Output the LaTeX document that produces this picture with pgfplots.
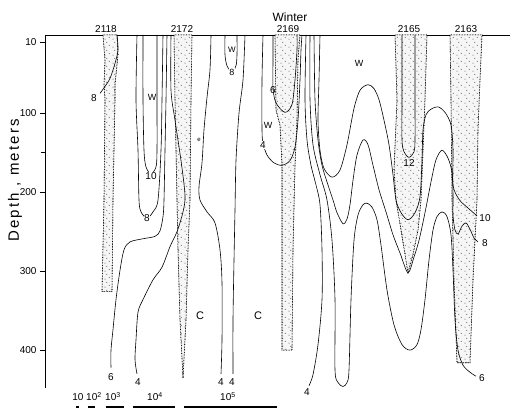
\documentclass[border=0pt]{standalone}
\usepackage{pgfplots}
\pgfplotsset{compat=1.18}
\usepackage{fontspec}
\setmainfont{Liberation Sans}
\newfontfamily\spacedfont[LetterSpace=15]{Liberation Sans}
\usetikzlibrary{patterns}
\pgfdeclarepatternformonly{stipple}{\pgfqpoint{-0.5pt}{-0.5pt}}{\pgfqpoint{8.5pt}{8.5pt}}{\pgfqpoint{8pt}{8pt}}{%
  \pgfpathcircle{\pgfqpoint{1pt}{1pt}}{0.5pt}%
  \pgfpathcircle{\pgfqpoint{5.2pt}{2.6pt}}{0.5pt}%
  \pgfpathcircle{\pgfqpoint{2.8pt}{5.6pt}}{0.5pt}%
  \pgfusepath{fill}}
\pgfplotsset{
  cont/.style={black, line width=0.6pt, smooth, tension=0.5, no marks},
  band/.style={draw=black, densely dotted, line width=0.6pt, no marks,
    pattern=stipple, pattern color=black!75, preaction={fill=gray!7}},
}
\tikzset{
  lab/.style={font=\fontsize{10}{11}\selectfont, inner sep=0.6pt},
  wlab/.style={lab, fill=white},
}
\begin{document}
\begin{tikzpicture}
\begin{axis}[
  x=1pt, y=0.79pt,
  xmin=45, xmax=510, ymin=1, ymax=448,
  y dir=reverse,
  axis x line=none, axis y line=left,
  axis line style={-, line width=0.7pt},
  ytick={10,100,200,300,400},
  minor ytick={150},
  tick align=outside,
  major tick length=5pt, minor tick length=4pt,
  tick style={line width=0.7pt, black},
  yticklabel style={font=\fontsize{10}{12}\selectfont},
  /pgf/number format/assume math mode=true,
  clip=false,
]
% frame top line
\draw[line width=0.8pt] (axis cs:45,1) -- (axis cs:510,1);

% ---- stippled station bands
% 2118
\addplot[band] coordinates {(103,1) (105,33) (104,64) (105,83) (104,210) (102,326) (112,326) (113,210) (115,83) (115,64) (118,26) (117,1)} -- cycle;
% 2172
\addplot[band] coordinates {(174,1) (175,83) (177,210) (178,273) (180,362) (183,435) (186,362) (188,273) (190,210) (191,83) (192,1)} -- cycle;
% 2169
\addplot[band] coordinates {(275,1) (276,96) (280,115) (282,166) (282,273) (282,400) (292,400) (293,273) (295,166) (297,109) (298,33) (300,1)} -- cycle;
% 2165
\addplot[band] coordinates {(395,1) (397,83) (394,172) (396,210) (401,248) (405,279) (408,302) (413,279) (418,248) (421,210) (423,147) (425,83) (427,1)} -- cycle;
% 2163
\addplot[band] coordinates {(450,1) (451,83) (452,210) (454,311) (457,416) (470,416) (473,311) (477,210) (478,121) (480,58) (482,1)} -- cycle;

% ---- isolines, left part
\addplot[cont] coordinates {(117,1) (118,20) (115,37) (110,56) (104,68) (100,75)};
\addplot[cont] coordinates {(143,1) (143,83) (144,147) (146,168) (151,177) (156,168) (157,147) (157,83) (157,1)};
\addplot[cont] coordinates {(137,1) (136,83) (138,147) (139,210) (141,225) (147,233) (153,225) (158,210) (161,147) (162,83) (163,1)};
\addplot[cont] coordinates {(167,1) (166,83) (165,147) (164,210) (163,231) (160,249) (155,256) (143,259) (130,263) (124,273) (120,299) (116,336) (113,374) (111,400) (111,422)};
\addplot[cont] coordinates {(171,1) (171,71) (175,109) (181,160) (185,204) (183,225) (177,250) (170,269) (162,295) (153,311) (143,336) (138,352) (136,387) (135,412) (137,430)};
\addplot[cont] coordinates {(211,1) (210,45) (207,80) (204,121) (202,163) (199,193) (200,210) (207,225) (215,239) (220,273) (222,315) (222,387) (221,430)};
\addplot[cont] coordinates {(245,1) (243,58) (239,100) (236,160) (235,223) (234,286) (233,362) (233,430)};
\addplot[cont] coordinates {(225,1) (225,26) (227,40) (232,48) (236,40) (237,26) (237,1)};

% ---- isolines around 2169
\addplot[cont] coordinates {(263,1) (262,58) (262,121) (263,138) (267,153) (274,163) (282,166) (290,160) (295,143) (298,109) (300,58) (301,20) (302,1)};
\addplot[cont] coordinates {(273,1) (273,33) (273,68) (276,87) (285,99) (292,89) (295,58) (297,20) (297,1)};

% ---- isolines, right part
\addplot[cont] coordinates {(306,1) (305,83) (307,134) (311,166) (316,191) (320,216) (322,273) (322,336) (318,393) (313,431) (309,445)};
\addplot[cont] coordinates {(310,1) (310,83) (313,140) (320,178) (327,210) (332,261) (335,336) (335,425) (338,441) (343,446) (347,441) (349,425) (351,336) (354,261) (358,229) (363,216) (367,214) (372,219) (377,235) (381,267) (387,324) (394,368) (402,393) (410,400) (417,393) (421,374) (425,336) (429,286) (433,248) (437,231) (442,225) (447,231) (451,254) (453,299) (455,362) (458,400) (463,419) (470,428) (476,433)};
\addplot[cont] coordinates {(314,1) (315,83) (318,134) (322,166) (327,187) (333,210) (337,226) (343,240) (347,234) (350,216) (353,185) (357,153) (363,134) (368,140) (373,166) (379,197) (386,225) (393,254) (400,277) (408,302) (414,282) (419,261) (425,226) (431,187) (436,159) (442,147) (448,157) (452,175) (453,204) (453,229) (455,248) (458,253) (462,243) (466,239) (470,247) (474,258) (478,263)};
\addplot[cont] coordinates {(320,1) (319,58) (318,109) (320,147) (324,170) (332,181) (340,172) (347,140) (354,94) (360,71) (368,64) (374,69) (379,83) (384,109) (389,140) (393,178) (396,210) (401,226) (408,235) (415,226) (420,206) (422,159) (423,121) (426,102) (431,95) (438,92) (445,99) (451,115) (453,147) (453,191) (459,209) (467,219) (477,230)};
\addplot[cont] coordinates {(402,1) (402,83) (402,134) (404,149) (409,156) (414,149) (415,134) (415,83) (415,1)};

% ---- scale bars
\addplot[black, line width=1.3pt, no marks] coordinates {(76,472) (79,472)};
\addplot[black, line width=1.3pt, no marks] coordinates {(88,472) (95,472)};
\addplot[black, line width=1.3pt, no marks] coordinates {(106,472) (124,472)};
\addplot[black, line width=1.3pt, no marks] coordinates {(133,472) (175,472)};
\addplot[black, line width=1.3pt, no marks] coordinates {(184,472) (277,472)};

% ---- labels
\node[lab] at (axis cs:94,81) {8};
\node[wlab] at (axis cs:151,180) {10};
\node[wlab] at (axis cs:147,233) {8};
\node[lab, font=\fontsize{9}{10}\selectfont] at (axis cs:152,80) {W};
\node[wlab, font=\fontsize{9}{10}\selectfont] at (axis cs:232,48) {8};
\node[lab, font=\fontsize{8}{9}\selectfont] at (axis cs:232,20) {W};
\node[lab, font=\fontsize{6}{6}\selectfont] at (axis cs:199,134) {e};
\node[lab] at (axis cs:111,434) {6};
\node[lab] at (axis cs:138,441) {4};
\node[lab] at (axis cs:221,441) {4};
\node[lab] at (axis cs:232,441) {4};
\node[lab, font=\fontsize{11}{12}\selectfont] at (axis cs:200,356) {C};
\node[lab, font=\fontsize{11}{12}\selectfont] at (axis cs:258,356) {C};
\node[wlab] at (axis cs:263,140) {4};
\node[lab, font=\fontsize{9}{10}\selectfont] at (axis cs:268,115) {W};
\node[lab] at (axis cs:273,71) {6};
\node[lab, font=\fontsize{9}{10}\selectfont] at (axis cs:359,37) {W};
\node[lab] at (axis cs:409,163) {12};
\node[lab] at (axis cs:307,453) {4};
\node[lab] at (axis cs:485,233) {10};
\node[lab] at (axis cs:485,264) {8};
\node[lab] at (axis cs:482,435) {6};

% scale labels
\node[lab] at (axis cs:78,459) {10};
\node[lab] at (axis cs:94,459) {10\textsuperscript{2}};
\node[lab] at (axis cs:113,459) {10\textsuperscript{3}};
\node[lab] at (axis cs:155,459) {10\textsuperscript{4}};
\node[lab] at (axis cs:228,459) {10\textsuperscript{5}};

% station labels and title
\node[font=\fontsize{10}{12}\selectfont] at (axis cs:106,-7) {2118};
\node[font=\fontsize{10}{12}\selectfont] at (axis cs:182,-7) {2172};
\node[font=\fontsize{10}{12}\selectfont] at (axis cs:288,-7) {2169};
\node[font=\fontsize{10}{12}\selectfont] at (axis cs:409,-7) {2165};
\node[font=\fontsize{10}{12}\selectfont] at (axis cs:466,-7) {2163};
\node[font=\fontsize{12}{14}\selectfont] at (axis cs:290,-22) {Winter};
\node[rotate=90, font=\spacedfont\fontsize{15}{17}\selectfont] at (axis cs:15,185) {Depth , meters};

\coordinate (bbsw) at (axis cs:0,473.3);
\coordinate (bbne) at (axis cs:513,-43.2);
\end{axis}
\pgfresetboundingbox
\path[use as bounding box] (bbsw) rectangle (bbne);
\end{tikzpicture}
\end{document}
